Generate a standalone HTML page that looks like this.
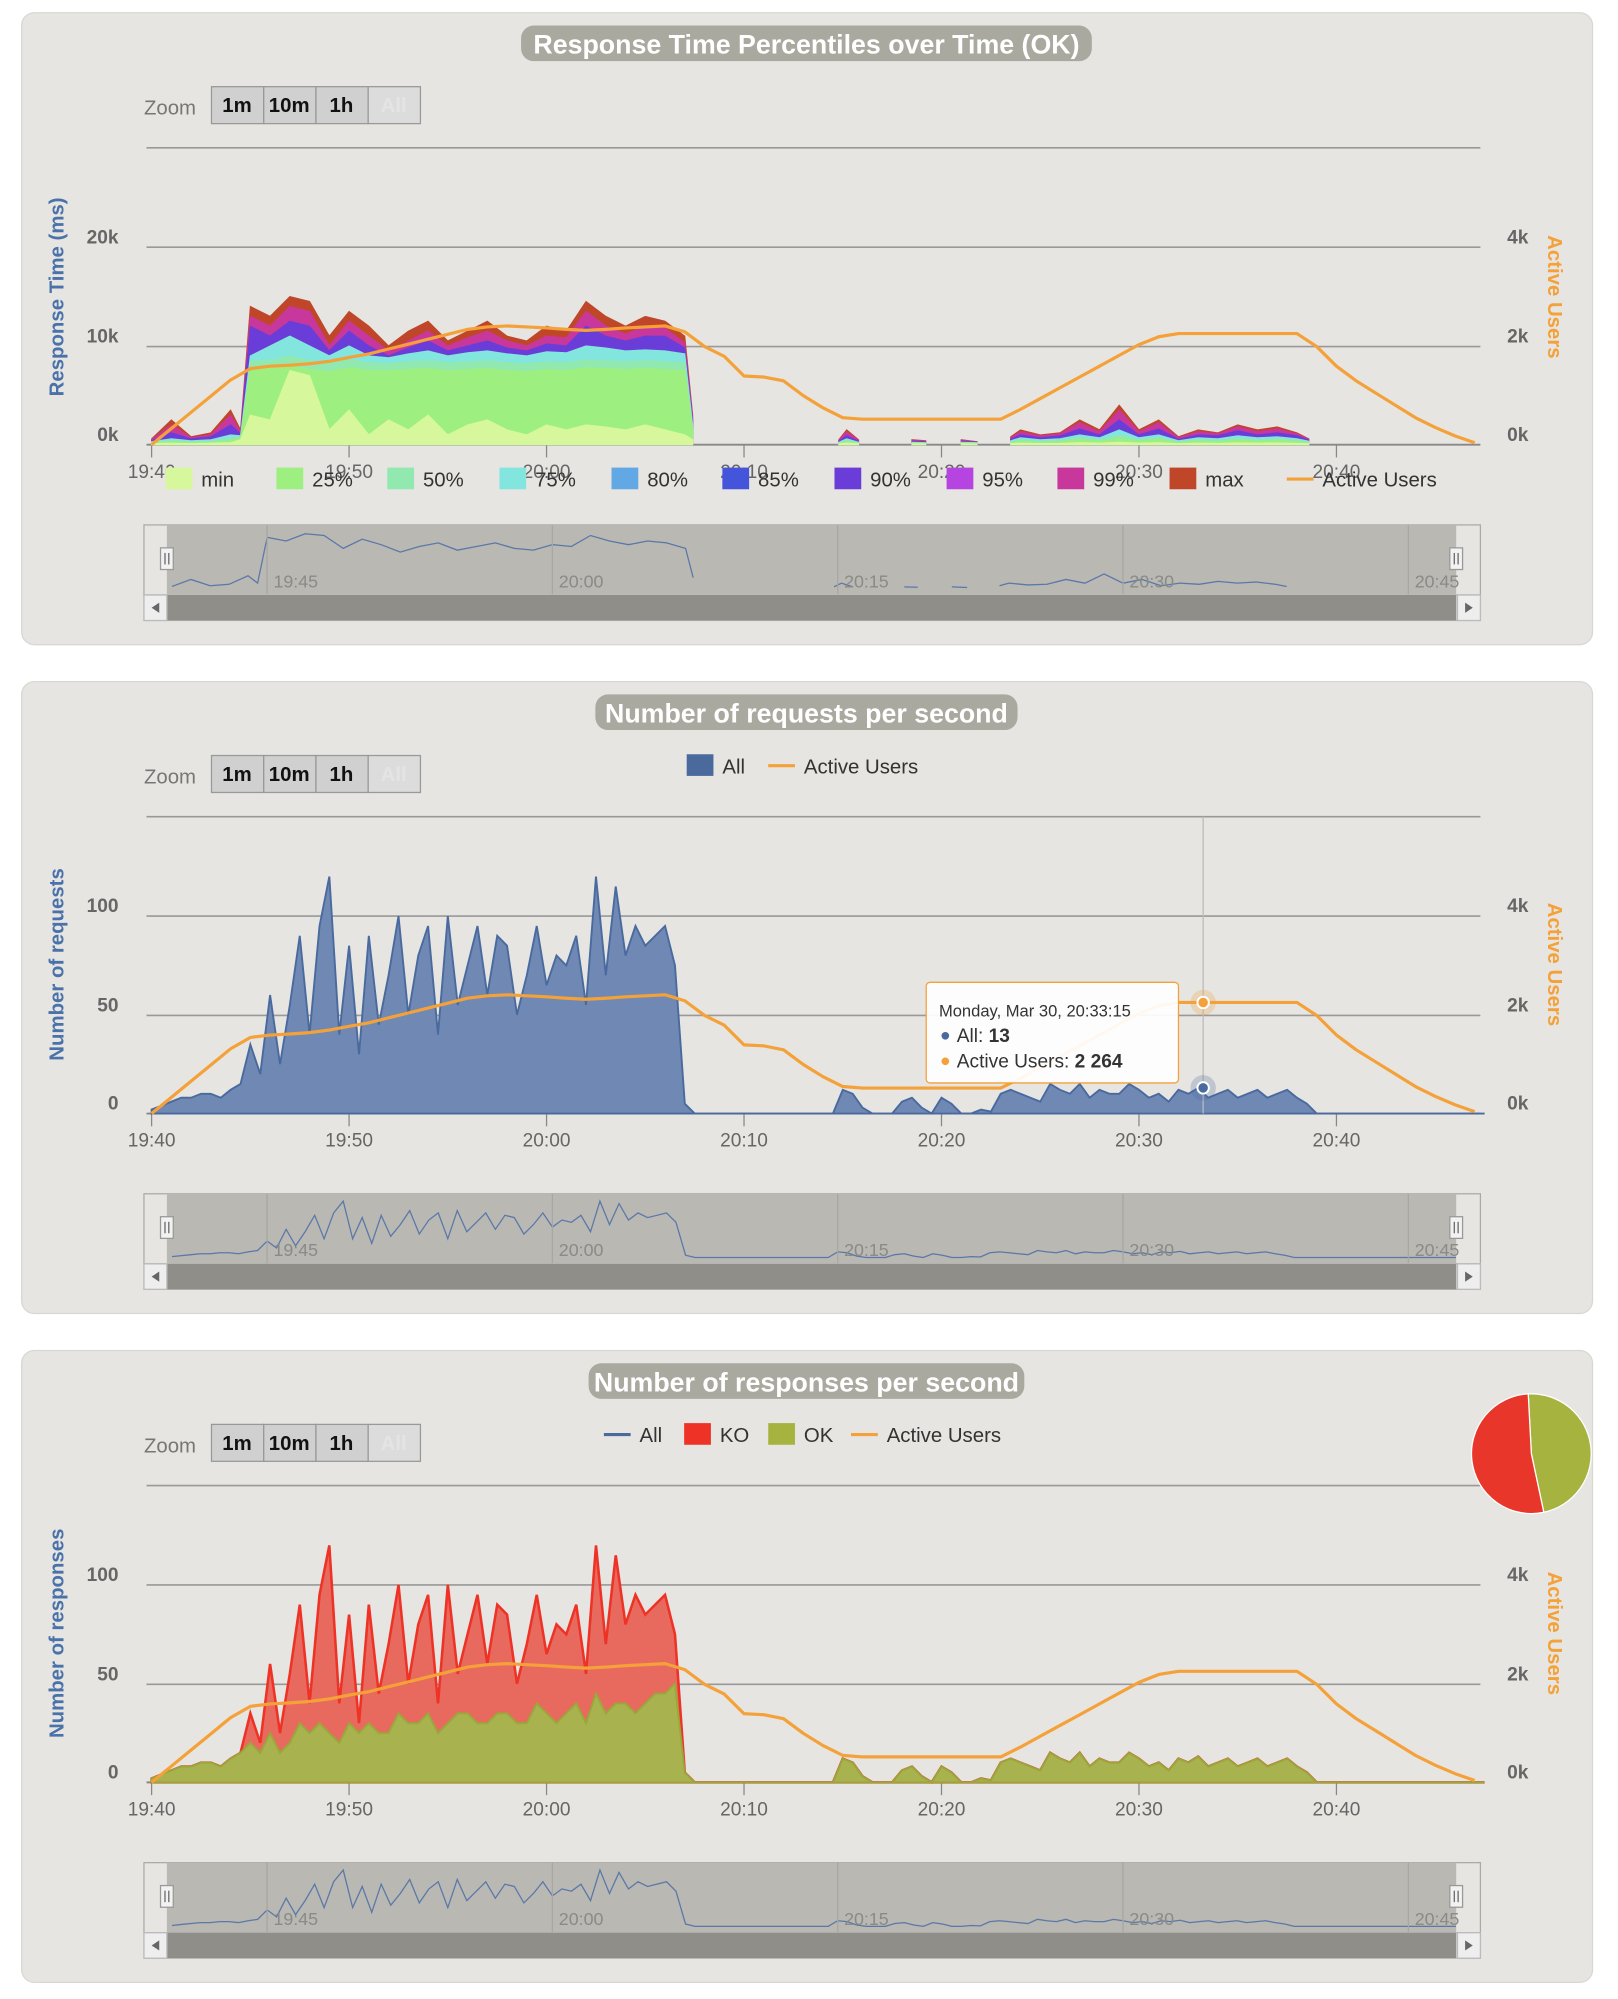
<!DOCTYPE html>
<html><head><meta charset="utf-8"><style>
html,body{margin:0;padding:0;background:#fff;}
svg{display:block;font-family:"Liberation Sans",sans-serif;}
</style></head><body>
<svg id="root" width="1618" height="1999" viewBox="0 0 1270 1569" xmlns="http://www.w3.org/2000/svg"></svg>
<script>
// ---------- DATA ----------
// response time percentiles (minutes after 19:40)
const rtTimes = [0,1,2,3,4,4.5,5,6,7,8,9,10,11,12,13,14,15,16,17,18,19,20,21,22,23,24,25,26,27,27.4,27.6,34.8,35.2,35.8,36,38.5,39.2,39.4,41,41.8,42,43.5,44,45,46,47,48,49,50,51,52,53,54,55,56,57,58,58.6];
const rtMax = [600,2500,800,1200,3500,1500,14000,13000,15000,14500,11000,13500,12000,10000,11500,12500,10500,11500,12500,11000,10500,12000,11500,14500,13000,12000,13000,12500,11000,3000,null,500,1500,500,null,500,400,null,500,300,null,800,1500,1000,1200,2500,1500,4000,1500,2500,800,1500,1200,2000,1500,1800,1200,600];
const rtP99 = [500,2000,700,1000,3000,1300,13000,12000,14000,13500,10000,12500,11000,9500,10500,11500,10000,10800,11500,10500,10000,11000,10800,13500,12000,11200,12000,11800,10300,2700,null,450,1300,450,null,450,350,null,450,280,null,700,1300,900,1100,2200,1300,3500,1300,2200,700,1300,1100,1800,1300,1600,1100,550];
const rtP90 = [400,1200,600,800,2000,1100,12000,11000,12500,12000,9500,11500,10000,9000,9800,10500,9500,10000,10500,9800,9500,10200,10000,12000,11000,10500,11000,11000,9800,2400,null,350,900,350,null,350,300,null,350,250,null,550,1000,700,900,1600,1000,2500,1000,1600,550,1000,900,1400,1000,1200,900,450];
const rtP75 = [300,600,400,500,1000,900,9000,10000,11000,10000,9000,10000,9000,8800,9200,9500,9000,9300,9500,9200,9000,9400,9300,10000,9800,9500,9600,9500,9200,2000,null,250,600,250,null,250,200,null,250,200,null,400,700,500,600,1000,700,1500,700,1000,400,700,600,900,700,800,600,350];
const rtP50 = [250,400,300,350,600,800,8500,8500,9000,8500,8200,8600,8300,8200,8400,8500,8300,8400,8500,8300,8200,8400,8300,8600,8500,8400,8500,8400,8300,1700,null,200,400,200,null,200,150,null,200,150,null,300,500,350,450,700,500,900,500,700,300,500,450,600,500,550,450,250];
const rtP25 = [200,300,200,250,400,700,7500,7800,8000,7600,7400,7800,7500,7500,7600,7700,7500,7600,7700,7500,7400,7600,7500,7800,7700,7600,7700,7600,7500,1400,null,150,300,150,null,150,100,null,150,100,null,200,350,250,300,500,350,600,350,500,200,350,300,450,350,400,300,200];
const rtMin = [100,150,100,150,200,500,3000,2500,7500,7000,1500,3500,1000,2500,1500,3000,1000,2000,2500,1500,1000,2000,1500,2000,1800,1500,2000,1500,1000,500,null,100,150,100,null,100,80,null,100,60,null,100,150,120,130,200,150,250,150,200,100,150,130,180,150,170,130,100];
// requests per second, every 30 s from 19:40
const allReq = [2,4,6,8,8,10,10,8,12,15,35,20,60,25,55,90,40,95,120,40,85,30,90,45,70,100,50,80,95,40,100,55,75,95,60,90,85,50,70,95,65,80,75,90,55,120,70,115,80,95,85,90,95,75,5,0,
0,0,0,0,0,0,0,0,0,0,0,0,0,0,
12,10,3,0,0,0,6,8,3,0,8,5,0,0,2,1,10,12,10,8,6,15,12,10,15,8,12,10,10,15,12,8,10,6,12,10,13,8,10,12,8,10,12,8,10,12,8,5,
0,0,0,0,0,0,0,0,0,0,0,0,0,0,0,0,0,0];
const okResp = [2,4,6,8,8,10,10,8,12,15,20,15,25,15,20,30,25,30,25,20,30,25,30,25,25,35,30,30,35,25,30,35,35,30,30,35,35,30,30,40,35,30,35,40,30,45,35,40,40,35,40,45,45,50,5,0,
0,0,0,0,0,0,0,0,0,0,0,0,0,0,
12,10,3,0,0,0,6,8,3,0,8,5,0,0,2,1,10,12,10,8,6,15,12,10,15,8,12,10,10,15,12,8,10,6,12,10,13,8,10,12,8,10,12,8,10,12,8,5,
0,0,0,0,0,0,0,0,0,0,0,0,0,0,0,0,0,0];
const koResp = [0,0,0,0,0,0,0,0,0,0,15,5,35,10,35,60,15,65,95,20,55,5,60,20,45,65,20,50,60,15,70,20,40,65,30,55,50,20,40,55,30,50,40,50,25,75,35,75,40,60,45,45,50,25,0,0,
0,0,0,0,0,0,0,0,0,0,0,0,0,0,
0,0,0,0,0,0,0,0,0,0,0,0,0,0,0,0,0,0,0,0,0,0,0,0,0,0,0,0,0,0,0,0,0,0,0,0,0,0,0,0,0,0,0,0,0,0,0,0,
0,0,0,0,0,0,0,0,0,0,0,0,0,0,0,0,0,0];
// active users per minute from 19:40
const activeUsers = [0,330,660,990,1320,1550,1600,1620,1650,1700,1780,1850,1950,2050,2150,2250,2350,2400,2420,2400,2380,2350,2330,2350,2380,2400,2420,2300,2000,1800,1400,1380,1300,1000,750,550,520,520,520,520,520,520,520,520,720,940,1160,1380,1600,1820,2040,2200,2264,2264,2264,2264,2264,2264,2264,2000,1600,1300,1050,800,550,350,180,40];
const xTickLabels = ["19:40","19:50","20:00","20:10","20:20","20:30","20:40"];
const navTickLabels = ["19:45","20:00","20:15","20:30","20:45"];
const pieLabels = ["OK","KO"];
const pieValues = [47.5,52.5];

// ---------- HELPERS ----------
const NS="http://www.w3.org/2000/svg";
const root=document.getElementById('root');
function el(tag,attrs,parent,text){const e=document.createElementNS(NS,tag);for(const k in attrs)e.setAttribute(k,attrs[k]);if(text!==undefined)e.textContent=text;(parent||root).appendChild(e);return e;}
const X0=119, PXM=15.5;
function xs(m){return X0+m*PXM;}
const NX0=135, NPXM=14.93;
function nx(m){return NX0+m*NPXM;}
const ORANGE="#f4a13a";

function panel(top,title){
  const g=el('g',{});
  
  
  el('rect',{x:17,y:top,width:1233,height:496,rx:10,fill:'#e6e5e1',stroke:'#d8d7d3'},g);
  const tw=title.length*10.6+24;
  const pill=el('rect',{x:633-tw/2,y:top+10,width:tw,height:28,rx:10,fill:'#aaa99f'},g);
  
  
  const t=el('text',{x:633,y:top+32,'text-anchor':'middle','font-size':21,'font-weight':'bold',fill:'#fff'},g,title);
  
  
  // zoom buttons
  const zl=el('text',{x:113,y:top+80,'font-size':16,fill:'#777'},g,'Zoom');
  
  
  const labs=['1m','10m','1h','All'];
  labs.forEach((l,i)=>{
    const b=el('g',{},g);
    
    
    el('rect',{x:166+i*41,y:top+58,width:41,height:29,fill:i==3?'#dcdcdc':'#d0d0d0',stroke:'#999'},b);
    el('text',{x:186+i*41,y:top+78,'text-anchor':'middle','font-size':16,'font-weight':'bold',fill:i==3?'#e4e4e4':'#111'},b,l);
  });
  return g;
}
function grid(g,base,lines){
  lines.forEach(y=>{el('line',{x1:115,x2:1162,y1:y,y2:y,stroke:'#999','stroke-width':1.3},g);});
  el('line',{x1:115,x2:1162,y1:base,y2:base,stroke:'#888','stroke-width':1.5},g);
  xTickLabels.forEach((l,i)=>{
    const x=xs(i*10);
    el('line',{x1:x,x2:x,y1:base,y2:base+10,stroke:'#888'},g);
    const t=el('text',{x:x,y:base+26,'text-anchor':'middle','font-size':15,fill:'#666'},g,l);
    
    
  });
}
function yLabels(g,items,side){
  items.forEach(([txt,y])=>{
    const t=el('text',{x:side=='l'?93:1183,y:y,'text-anchor':side=='l'?'end':'start','font-size':15,'font-weight':'bold',fill:'#666'},g,txt);
    
    
  });
}
function axisTitles(g,cy,leftTitle){
  const l=el('text',{x:0,y:0,transform:`translate(50,${cy}) rotate(-90)`,'text-anchor':'middle','font-size':16,'font-weight':'bold',fill:'#4a72aa'},g,leftTitle);
  
  
  const r=el('text',{x:0,y:0,transform:`translate(1215,${cy}) rotate(90)`,'text-anchor':'middle','font-size':16,'font-weight':'bold',fill:ORANGE},g,'Active Users');
  
  
}
function areaPaths(times,vals,yf,base){
  // split on nulls
  const segs=[];let cur=[];
  vals.forEach((v,i)=>{if(v===null){if(cur.length)segs.push(cur);cur=[];}else cur.push([xs(times[i]),yf(v)]);});
  if(cur.length)segs.push(cur);
  return segs.map(s=>'M'+s[0][0]+','+base+' '+s.map(p=>'L'+p[0].toFixed(1)+','+p[1].toFixed(1)).join(' ')+' L'+s[s.length-1][0]+','+base+'Z');
}
function usersLine(g,base){
  const d=activeUsers.map((u,i)=>(i?'L':'M')+xs(i).toFixed(1)+','+(base-u/1000*38.5).toFixed(1)).join(' ');
  const p=el('path',{d:d,fill:'none',stroke:ORANGE,'stroke-width':2.5,'stroke-linejoin':'round'},g);
  
  
}
function navigator(g,top,vals,times,vmax){
  const n=el('g',{},g);
  
  
  el('rect',{x:113,y:top,width:1049,height:55,fill:'#e6e5e1',stroke:'#aaa'},n);
  el('rect',{x:131,y:top,width:1012,height:55,fill:'#b9b8b3'},n);
  let d='';let pen=false;
  vals.forEach((v,i)=>{if(v===null){pen=false;return;}const x=nx(times[i]);const y=top+50-v/vmax*46;d+=(pen?'L':'M')+x.toFixed(1)+','+y.toFixed(1)+' ';pen=true;});
  el('path',{d:d,fill:'none',stroke:'#5a78a8','stroke-width':1},n);
  navTickLabels.forEach((l,i)=>{
    const x=nx(5+i*15);
    el('line',{x1:x,x2:x,y1:top,y2:top+55,stroke:'#a8a7a2'},n);
    el('text',{x:x+5,y:top+49,'font-size':14,fill:'#8a8a86'},n,l);
  });
  [131,1143].forEach(hx=>{
    const h=el('rect',{x:hx-5,y:top+18,width:10,height:17,fill:'#f2f2f2',stroke:'#999'},n);
    
    
    el('line',{x1:hx-1.5,x2:hx-1.5,y1:top+22,y2:top+31,stroke:'#666'},n);
    el('line',{x1:hx+1.5,x2:hx+1.5,y1:top+22,y2:top+31,stroke:'#666'},n);
  });
  const sb=el('g',{},n);
  
  
  el('rect',{x:113,y:top+55,width:1049,height:20,fill:'#ddd',stroke:'#bbb'},sb);
  el('rect',{x:131,y:top+55,width:1012,height:20,fill:'#8f8e89'},sb);
  el('rect',{x:113,y:top+55,width:18,height:20,fill:'#eee',stroke:'#bbb'},sb);
  el('rect',{x:1144,y:top+55,width:18,height:20,fill:'#eee',stroke:'#bbb'},sb);
  el('path',{d:`M125,${top+61} L119,${top+65} L125,${top+69}Z`,fill:'#666'},sb);
  el('path',{d:`M1150,${top+61} L1156,${top+65} L1150,${top+69}Z`,fill:'#666'},sb);
}
function legendSquare(g,x,y,color,label,name){
  const l=el('g',{},g);
  
  
  el('rect',{x:x,y:y-13,width:21,height:17,fill:color},l);
  el('text',{x:x+28,y:y+2,'font-size':16,fill:'#333'},l,label);
}
function legendLine(g,x,y,color,label,name){
  const l=el('g',{},g);
  
  
  el('line',{x1:x,x2:x+21,y1:y-4,y2:y-4,stroke:color,'stroke-width':2.5},l);
  el('text',{x:x+28,y:y+2,'font-size':16,fill:'#333'},l,label);
}
const halfTimes=allReq.map((_,i)=>i*0.5);

// ---------- CHART 1 ----------
(function(){
  const g=panel(10,'Response Time Percentiles over Time (OK)');
  const base=349;
  grid(g,base,[116,194,272]);
  yLabels(g,[['20k',191],['10k',269],['0k',346]],'l');
  yLabels(g,[['4k',191],['2k',269],['0k',346]],'r');
  axisTitles(g,233,'Response Time (ms)');
  const yf=v=>base-v/1000*7.75;
  const layers=[[rtMax,'#c0462a','rt-max'],[rtP99,'#c8389c','rt-p99'],[rtP90,'#6b3dd8','rt-p90'],[rtP75,'#82e6de','rt-p75'],[rtP50,'#92e9b0','rt-p50'],[rtP25,'#9df07f','rt-p25'],[rtMin,'#d6f79b','rt-min']];
  layers.forEach(([arr,c,n])=>{
    areaPaths(rtTimes,arr,yf,base).forEach(d=>{
      const p=el('path',{d:d,fill:c,stroke:c,'stroke-width':0.8},g);
      
      
    });
  });
  usersLine(g,base);
  const leg=[['min','#d6f79b',130],['25%','#9df07f',217],['50%','#92e9b0',304],['75%','#82e6de',392],['80%','#62a8e4',480],['85%','#4455dc',567],['90%','#6b3dd8',655],['95%','#b644e0',743],['99%','#c8389c',830],['max','#c0462a',918]];
  leg.forEach(([l,c,x])=>legendSquare(g,x,380,c,l,'legend-'+l.replace('%','pct')));
  legendLine(g,1010,380,ORANGE,'Active Users','legend-active-users');
  navigator(g,412,rtMax,rtTimes,16000);
})();

// ---------- CHART 2 ----------
(function(){
  const g=panel(535,'Number of requests per second');
  const base=874;
  grid(g,base,[641,719,797]);
  yLabels(g,[['100',716],['50',794],['0',871]],'l');
  yLabels(g,[['4k',716],['2k',794],['0k',871]],'r');
  axisTitles(g,757,'Number of requests');
  const yf=v=>base-v*1.55;
  areaPaths(halfTimes,allReq,yf,base).forEach(d=>{
    const p=el('path',{d:d,fill:'#6f89b4',stroke:'#4a6a9e','stroke-width':1.5},g);
    
    
  });
  usersLine(g,base);
  legendSquare(g,539,605,'#4a6a9e','All','legend-all');
  legendLine(g,603,605,ORANGE,'Active Users','legend-active-users');
  // crosshair + tooltip
  const hx=xs(53.25);
  el('line',{x1:hx,x2:hx,y1:641,y2:874,stroke:'#bbb'},g);
  el('circle',{cx:hx,cy:base-2264/1000*38.5,r:10,fill:ORANGE,'fill-opacity':0.25},g);
  el('circle',{cx:hx,cy:base-2264/1000*38.5,r:4.5,fill:ORANGE,stroke:'#fff','stroke-width':1.5},g);
  el('circle',{cx:hx,cy:yf(13),r:10,fill:'#4a6a9e','fill-opacity':0.25},g);
  el('circle',{cx:hx,cy:yf(13),r:4.5,fill:'#4a6a9e',stroke:'#fff','stroke-width':1.5},g);
  const tt=el('g',{},g);
  
  
  el('rect',{x:727,y:771,width:198,height:79,rx:3,fill:'#fff','fill-opacity':0.93,stroke:'#f4a13a','stroke-width':1},tt);
  el('text',{x:737,y:798,'font-size':13,fill:'#333'},tt,'Monday, Mar 30, 20:33:15');
  el('circle',{cx:742,cy:813,r:3,fill:'#4a6a9e'},tt);
  const t1=el('text',{x:751,y:818,'font-size':15,fill:'#333'},tt);
  t1.innerHTML='All: <tspan font-weight="bold">13</tspan>';
  el('circle',{cx:742,cy:833,r:3,fill:ORANGE},tt);
  const t2=el('text',{x:751,y:838,'font-size':15,fill:'#333'},tt);
  t2.innerHTML='Active Users: <tspan font-weight="bold">2 264</tspan>';
  navigator(g,937,allReq,halfTimes,125);
})();

// ---------- CHART 3 ----------
(function(){
  const g=panel(1060,'Number of responses per second');
  const base=1399;
  grid(g,base,[1166,1244,1322]);
  yLabels(g,[['100',1241],['50',1319],['0',1396]],'l');
  yLabels(g,[['4k',1241],['2k',1319],['0k',1396]],'r');
  axisTitles(g,1282,'Number of responses');
  const yf=v=>base-v*1.55;
  const stacked=koResp.map((k,i)=>k+okResp[i]);
  areaPaths(halfTimes,stacked,yf,base).forEach(d=>{
    const p=el('path',{d:d,fill:'#e86a5e',stroke:'#ee3226','stroke-width':2},g);
    
    
  });
  areaPaths(halfTimes,okResp,yf,base).forEach(d=>{
    const p=el('path',{d:d,fill:'#a8b24e',stroke:'#98a83a','stroke-width':1.5},g);
    
    
  });
  usersLine(g,base);
  legendLine(g,474,1130,'#4a6a9e','All','legend-all');
  legendSquare(g,537,1130,'#ee3226','KO','legend-ko');
  legendSquare(g,603,1130,'#a6b33e','OK','legend-ok');
  legendLine(g,668,1130,ORANGE,'Active Users','legend-active-users');
  // pie
  const cx=1202,cy=1141,r=47;
  const total=pieValues.reduce((a,b)=>a+b,0);
  let ang=-3;
  const cols=['#a6b33e','#e8362a'];
  pieValues.forEach((v,i)=>{
    const a0=ang*Math.PI/180, a1=(ang+v/total*360)*Math.PI/180;
    const large=v/total>0.5?1:0;
    const d=`M${cx},${cy} L${cx+r*Math.sin(a0)},${cy-r*Math.cos(a0)} A${r},${r} 0 ${large} 1 ${cx+r*Math.sin(a1)},${cy-r*Math.cos(a1)}Z`;
    const p=el('path',{d:d,fill:cols[i],stroke:'#fff','stroke-width':1},g);
    
    
    ang+=v/total*360;
  });
  navigator(g,1462,allReq,halfTimes,125);
})();
</script>
</body></html>
